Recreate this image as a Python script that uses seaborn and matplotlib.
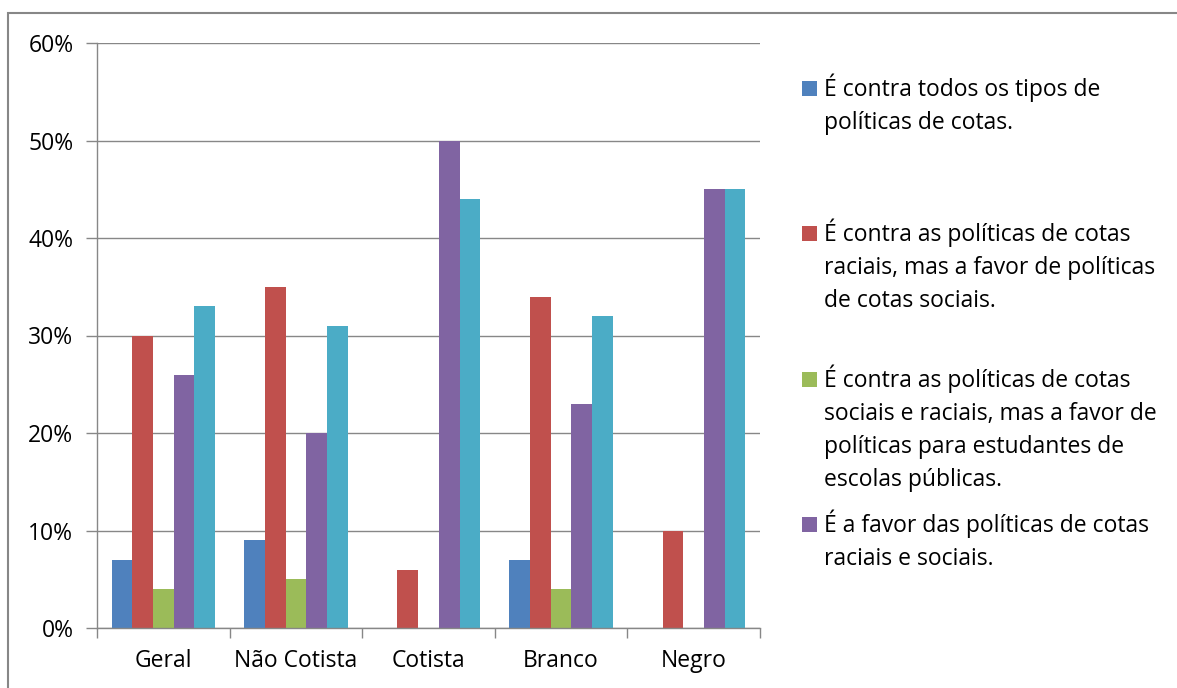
import numpy as np
import pandas as pd
import seaborn as sns
import matplotlib.pyplot as plt
from matplotlib.patches import Rectangle
from matplotlib.ticker import PercentFormatter, FixedLocator

# Dados (percentuais)
categorias = ["Geral", "Não Cotista", "Cotista", "Branco", "Negro"]
contra_todos = [7, 9, 0, 7, 0]
contra_raciais = [30, 35, 6, 34, 10]
contra_sociais_raciais = [4, 5, 0, 4, 0]
a_favor = [26, 20, 50, 23, 45]
outra_resposta = [33, 31, 44, 32, 45]

rotulos = [
    "É contra todos os tipos de\npolíticas de cotas.",
    "É contra as políticas de cotas\nraciais, mas a favor de políticas\nde cotas sociais.",
    "É contra as políticas de cotas\nsociais e raciais, mas a favor de\npolíticas para estudantes de\nescolas públicas.",
    "É a favor das políticas de cotas\nraciais e sociais.",
    "Outra resposta.",
]
cores = ["#4F81BD", "#C0504D", "#9BBB59", "#8064A2", "#4BACC6"]

valores = [contra_todos, contra_raciais, contra_sociais_raciais, a_favor, outra_resposta]
df = pd.DataFrame({
    "categoria": np.repeat([categorias], len(rotulos), axis=0).ravel(),
    "serie": np.repeat(rotulos, len(categorias)),
    "valor": np.concatenate(valores),
})

sns.set_theme(style="white")
plt.rcParams["font.family"] = ["Open Sans", "DejaVu Sans"]

W, H = 1177, 688
fig = plt.figure(figsize=(W / 100, H / 100), dpi=100)
ax = fig.add_axes([97 / W, 1 - 628 / H, (760 - 97) / W, (628 - 43) / H])

sns.barplot(data=df, x="categoria", y="valor", hue="serie", hue_order=rotulos,
            order=categorias, palette=cores, width=0.78, gap=0, legend=False,
            linewidth=0, saturation=1, ax=ax)

cinza = "#878787"
fs = 16.5
ax.set_ylim(0, 60)
ax.set_xlim(-0.5, 4.5)
ax.yaxis.set_major_locator(FixedLocator(np.arange(0, 61, 10)))
ax.yaxis.set_major_formatter(PercentFormatter(100, decimals=0))
ax.yaxis.grid(True, color=cinza, lw=1)
ax.set_axisbelow(True)
ax.set_xlabel("")
ax.set_ylabel("")
for s in ["top", "right"]:
    ax.spines[s].set_visible(False)
for s in ["left", "bottom"]:
    ax.spines[s].set_color(cinza)
    ax.spines[s].set_linewidth(1)

ax.xaxis.set_minor_locator(FixedLocator(np.arange(-0.5, 5, 1)))
ax.tick_params(axis="x", which="major", length=0, labelsize=fs, pad=15, labelcolor="black")
ax.tick_params(axis="x", which="minor", length=7, color=cinza, width=1, direction="out", bottom=True)
ax.tick_params(axis="y", length=8, color=cinza, width=1, direction="out", left=True,
               labelsize=fs, pad=9, labelcolor="black")

# Borda externa do gráfico
fig.add_artist(Rectangle((8 / W, -0.5), 2, 1.5 - 13 / H, transform=fig.transFigure,
                         fill=False, edgecolor=cinza, lw=1.5))

# Legenda (só as quatro primeiras entradas cabem na área visível)
linha = 33
for i in range(4):
    base = 96 + i * 145.3
    fig.add_artist(Rectangle((802 / W, 1 - base / H), 15 / W, 15 / H,
                             transform=fig.transFigure, color=cores[i], lw=0))
    for j, txt in enumerate(rotulos[i].split("\n")):
        fig.text(824 / W, 1 - (base + j * linha) / H, txt, fontsize=fs,
                 va="baseline", ha="left", color="black")

fig.savefig("out.png", dpi=100)
